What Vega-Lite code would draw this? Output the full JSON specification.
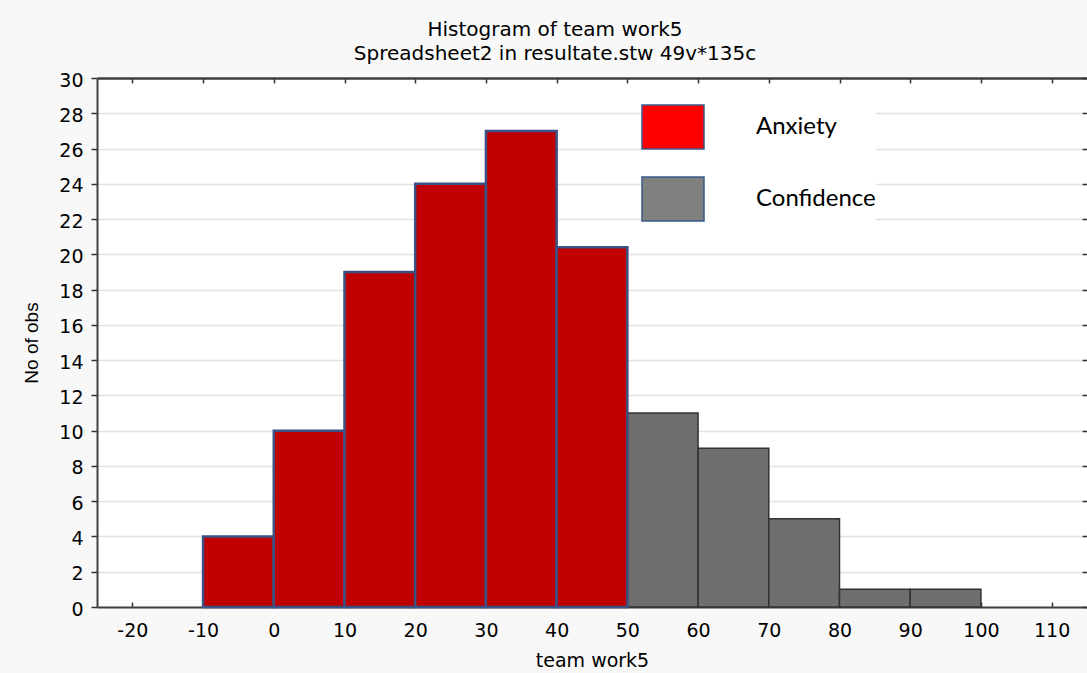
{
  "$schema": "https://vega.github.io/schema/vega-lite/v6.json",
  "width": 990,
  "height": 529,
  "autosize": {"type": "none"},
  "padding": {"left": 97, "top": 78, "right": 0, "bottom": 66},
  "background": "#f8f8f8",
  "title": {
    "text": ["Histogram of team work5", "Spreadsheet2 in resultate.stw 49v*135c"],
    "font": "DejaVu Sans",
    "fontSize": 20,
    "fontWeight": "normal",
    "color": "black",
    "lineHeight": 24,
    "anchor": "middle",
    "dx": -37,
    "offset": 7
  },
  "data": {
    "values": [
      {"start": -10, "end": 0, "count": 4, "group": "Anxiety"},
      {"start": 0, "end": 10, "count": 10, "group": "Anxiety"},
      {"start": 10, "end": 20, "count": 19, "group": "Anxiety"},
      {"start": 20, "end": 30, "count": 24, "group": "Anxiety"},
      {"start": 30, "end": 40, "count": 27, "group": "Anxiety"},
      {"start": 40, "end": 50, "count": 20.4, "group": "Anxiety"},
      {"start": 50, "end": 60, "count": 11, "group": "Confidence"},
      {"start": 60, "end": 70, "count": 9, "group": "Confidence"},
      {"start": 70, "end": 80, "count": 5, "group": "Confidence"},
      {"start": 80, "end": 90, "count": 1, "group": "Confidence"},
      {"start": 90, "end": 100, "count": 1, "group": "Confidence"}
    ]
  },
  "layer": [
    {
      "transform": [{"filter": "datum.group === 'Confidence'"}],
      "mark": {"type": "rect", "fill": "#6e6e6e", "stroke": "#333333", "strokeWidth": 1.5},
      "encoding": {
        "x": {
          "field": "start", "type": "quantitative",
          "scale": {"domain": [-25, 115], "nice": false, "zero": false},
          "axis": {
            "orient": "bottom",
            "values": [-20, -10, 0, 10, 20, 30, 40, 50, 60, 70, 80, 90, 100, 110],
            "labelExpr": "datum.value < 0 ? '-' + abs(datum.value) : datum.label",
            "title": "team work5",
            "titleFont": "DejaVu Sans", "titleFontSize": 19, "titleFontWeight": "normal", "titleColor": "black",
            "titlePadding": 11,
            "labelFont": "DejaVu Sans", "labelFontSize": 19, "labelColor": "black",
            "labelPadding": 19,
            "tickSize": -5, "tickColor": "#333333", "tickWidth": 1.5,
            "domainColor": "#404040", "domainWidth": 2,
            "grid": false, "labelFlush": false
          }
        },
        "x2": {"field": "end"},
        "y": {
          "field": "count", "type": "quantitative",
          "scale": {"domain": [0, 30], "nice": false},
          "axis": {
            "orient": "left",
            "values": [0, 2, 4, 6, 8, 10, 12, 14, 16, 18, 20, 22, 24, 26, 28, 30],
            "title": "No of obs",
            "titleFont": "Liberation Sans", "titleFontSize": 19, "titleFontWeight": "normal", "titleColor": "black",
            "titlePadding": 17,
            "labelFont": "DejaVu Sans", "labelFontSize": 19, "labelColor": "black",
            "labelPadding": 8, "labelFlush": false, "labelOffset": 2,
            "tickSize": 6, "tickColor": "#333333", "tickWidth": 1.5,
            "domainColor": "#404040", "domainWidth": 2,
            "grid": true, "gridColor": "#e2e2e2", "gridWidth": 1.5
          }
        },
        "y2": {"datum": 0}
      }
    },
    {
      "transform": [{"filter": "datum.group === 'Anxiety'"}],
      "mark": {"type": "rect", "fill": "#c00000", "stroke": "#3b5284", "strokeWidth": 2.5},
      "encoding": {
        "x": {
          "field": "start", "type": "quantitative",
          "axis": {
            "orient": "top",
            "values": [-20, -10, 0, 10, 20, 30, 40, 50, 60, 70, 80, 90, 100, 110],
            "title": null, "labels": false,
            "tickSize": -5, "tickColor": "#333333", "tickWidth": 1.5,
            "domainColor": "#404040", "domainWidth": 2.5,
            "grid": false
          }
        },
        "x2": {"field": "end"},
        "y": {
          "field": "count", "type": "quantitative",
          "axis": {
            "orient": "right",
            "values": [0, 2, 4, 6, 8, 10, 12, 14, 16, 18, 20, 22, 24, 26, 28, 30],
            "title": null, "labels": false,
            "tickSize": -5, "tickColor": "#333333", "tickWidth": 1.5,
            "domain": false,
            "grid": false
          }
        },
        "y2": {"datum": 0}
      }
    },
    {
      "mark": {"type": "rect", "opacity": 0, "stroke": "#3b5a8a"},
      "encoding": {
        "x": {"field": "start", "type": "quantitative", "axis": null},
        "x2": {"field": "end"},
        "y": {"field": "count", "type": "quantitative", "axis": null},
        "y2": {"datum": 0},
        "fill": {
          "field": "group", "type": "nominal",
          "scale": {"domain": ["Anxiety", "Confidence"], "range": ["#ff0000", "#808080"]},
          "legend": {
            "orient": "none",
            "legendX": 544,
            "legendY": 17,
            "title": null,
            "symbolType": "M-1,-0.71L1,-0.71L1,0.71L-1,0.71Z",
            "symbolSize": 3844,
            "symbolOpacity": 1,
            "labelFont": "Lato",
            "labelFontSize": 24,
            "labelColor": "black",
            "labelOffset": 51,
            "rowPadding": 14,
            "padding": 0,
            "fillColor": "white",
            "encode": {
              "symbols": {
                "stroke": {"value": "#3b5a8a"},
                "strokeWidth": {"value": 1.5}
              },
              "labels": {
                "dy": {"value": -14}
              }
            }
          }
        }
      }
    }
  ],
  "resolve": {"axis": {"x": "independent", "y": "independent"}},
  "config": {
    "view": {"fill": "white", "stroke": null}
  }
}
